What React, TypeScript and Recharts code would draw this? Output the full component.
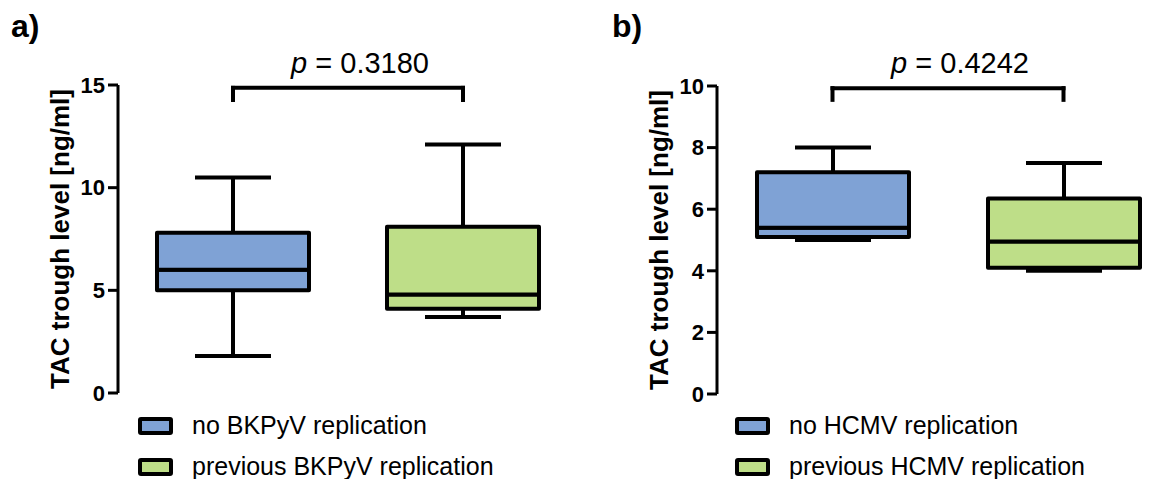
import React from 'react'
import { ComposedChart, Bar, Cell, XAxis, YAxis, ReferenceLine, Legend } from 'recharts'

const FONT = '"Liberation Sans", Arial, Helvetica, sans-serif'
const COLORS = ['#7FA2D5', '#BEDE88']

// panel a - BKPyV
const catsA = ['no BKPyV replication', 'previous BKPyV replication']
const minA = [1.8, 3.7]
const q1A = [5.0, 4.1]
const medA = [6.0, 4.8]
const q3A = [7.8, 8.1]
const maxA = [10.5, 12.1]
const ticksA = [0, 5, 10, 15]

// panel b - HCMV
const catsB = ['no HCMV replication', 'previous HCMV replication']
const minB = [5.0, 4.0]
const q1B = [5.1, 4.1]
const medB = [5.4, 4.95]
const q3B = [7.2, 6.35]
const maxB = [8.0, 7.5]
const ticksB = [0, 2, 4, 6, 8, 10]

const buildRows = (cats: string[], mins: number[], q1s: number[], meds: number[], q3s: number[], maxs: number[]) =>
    cats.map((name, i) => ({
        name,
        base: mins[i],
        lowWhisker: q1s[i] - mins[i],
        lowBox: meds[i] - q1s[i],
        highBox: q3s[i] - meds[i],
        highWhisker: maxs[i] - q3s[i],
    }))

const Empty = () => null

const BoxShape = (p: any) => (
    <rect x={p.x} y={p.y} width={p.width} height={p.height} fill={p.fill} stroke="#000" strokeWidth={4} strokeLinejoin="round" />
)

const LowWhisker = (p: any) => {
    const cx = p.x + p.width / 2
    const yb = p.y + p.height
    return (
        <g>
            <line x1={cx} x2={cx} y1={p.y} y2={yb} stroke="#000" strokeWidth={4} />
            <line x1={cx - p.width / 4} x2={cx + p.width / 4} y1={yb} y2={yb} stroke="#000" strokeWidth={4} />
        </g>
    )
}

const HighWhisker = (p: any) => {
    const cx = p.x + p.width / 2
    return (
        <g>
            <line x1={cx} x2={cx} y1={p.y} y2={p.y + p.height} stroke="#000" strokeWidth={4} />
            <line x1={cx - p.width / 4} x2={cx + p.width / 4} y1={p.y} y2={p.y} stroke="#000" strokeWidth={4} />
        </g>
    )
}

const makeLegend = (names: string[]) => () => (
    <div style={{ fontFamily: FONT }}>
        {names.map((n, i) => (
            <div key={n} style={{ display: 'flex', alignItems: 'center', height: 41 }}>
                <span style={{ display: 'inline-block', width: 27, height: 10, border: '4px solid #000', borderRadius: 3, background: COLORS[i] }} />
                <span style={{ marginLeft: 19, fontSize: 25, color: '#000' }}>{n}</span>
            </div>
        ))}
    </div>
)

interface PanelProps {
    cats: string[]
    rows: any[]
    ticks: number[]
    bracketTop: number
    bracketBottom: number
    pText: string
    width: number
    margin: { top: number; right: number; bottom: number; left: number }
    legendLeft: number
}

const Panel = ({ cats, rows, ticks, bracketTop, bracketBottom, pText, width, margin, legendLeft }: PanelProps) => {
    const yMax = ticks[ticks.length - 1]
    const lineProps = { stroke: '#000', strokeWidth: 4, strokeLinecap: 'square' as const, ifOverflow: 'visible' as const }
    return (
        <ComposedChart width={width} height={479} data={rows} margin={margin} barCategoryGap={0}>
            <XAxis dataKey="name" tick={false} tickLine={false} height={0} axisLine={{ stroke: '#000', strokeWidth: 3 }} />
            <YAxis
                domain={[0, yMax]}
                ticks={ticks}
                interval={0}
                width={60}
                tickSize={10}
                tickMargin={3}
                axisLine={{ stroke: '#000', strokeWidth: 3 }}
                tickLine={{ stroke: '#000', strokeWidth: 3 }}
                tick={{ fontSize: 22, fontWeight: 'bold', fill: '#000', fontFamily: FONT }}
                label={{
                    content: (lp: any) => {
                        const vb = lp.viewBox
                        const x = vb.x + vb.width - 58
                        const y = vb.y + vb.height / 2
                        return (
                            <text x={x} y={y} transform={`rotate(-90, ${x}, ${y})`} textAnchor="middle" dominantBaseline="central"
                                fontSize={26} fontWeight="bold" fontFamily={FONT} fill="#000">
                                TAC trough level [ng/ml]
                            </text>
                        )
                    },
                }}
            />
            <Bar dataKey="base" stackId="b" barSize={152} shape={Empty} isAnimationActive={false} />
            <Bar dataKey="lowWhisker" stackId="b" barSize={152} shape={LowWhisker} isAnimationActive={false} />
            <Bar dataKey="lowBox" stackId="b" barSize={152} shape={BoxShape} isAnimationActive={false}>
                {rows.map((r, i) => <Cell key={r.name} fill={COLORS[i]} />)}
            </Bar>
            <Bar dataKey="highBox" stackId="b" barSize={152} shape={BoxShape} isAnimationActive={false}>
                {rows.map((r, i) => <Cell key={r.name} fill={COLORS[i]} />)}
            </Bar>
            <Bar dataKey="highWhisker" stackId="b" barSize={152} shape={HighWhisker} isAnimationActive={false} />
            <ReferenceLine segment={[{ x: cats[0], y: bracketTop }, { x: cats[0], y: bracketBottom }]} {...lineProps} />
            <ReferenceLine segment={[{ x: cats[1], y: bracketTop }, { x: cats[1], y: bracketBottom }]} {...lineProps} />
            <ReferenceLine
                segment={[{ x: cats[0], y: bracketTop }, { x: cats[1], y: bracketTop }]}
                {...lineProps}
                label={{
                    content: (lp: any) => {
                        const vb = lp.viewBox
                        return (
                            <text x={vb.x + vb.width / 2 + 12} y={vb.y - 15} textAnchor="middle" fontSize={29} fontFamily={FONT} fill="#000">
                                <tspan fontStyle="italic">p</tspan>
                                <tspan> = {pText}</tspan>
                            </text>
                        )
                    },
                }}
            />
            <Legend
                layout="vertical"
                align="center"
                verticalAlign="middle"
                content={makeLegend(cats)}
                wrapperStyle={{ position: 'absolute', left: legendLeft, top: 405, width: 420 }}
            />
        </ComposedChart>
    )
}

export default function App() {
    const rowsA = buildRows(catsA, minA, q1A, medA, q3A, maxA)
    const rowsB = buildRows(catsB, minB, q1B, medB, q3B, maxB)
    const titleStyle: React.CSSProperties = {
        position: 'absolute', top: 10, fontSize: 32, fontWeight: 'bold', fontFamily: FONT, lineHeight: '32px', color: '#000',
    }
    return (
        <div style={{ position: 'relative', width: 1170, height: 479, overflow: 'hidden', background: '#fff' }}>
            <style>{'body{margin:0}'}</style>
            <div style={{ ...titleStyle, left: 11 }}>a)</div>
            <div style={{ ...titleStyle, left: 612 }}>b)</div>
            <div style={{ position: 'absolute', left: 0, top: 0 }}>
                <Panel
                    cats={catsA}
                    rows={rowsA}
                    ticks={ticksA}
                    bracketTop={14.86}
                    bracketBottom={14.27}
                    pText="0.3180"
                    width={590}
                    margin={{ top: 85, right: 12, bottom: 86, left: 58 }}
                    legendLeft={138}
                />
            </div>
            <div style={{ position: 'absolute', left: 590, top: 0 }}>
                <Panel
                    cats={catsB}
                    rows={rowsB}
                    ticks={ticksB}
                    bracketTop={9.93}
                    bracketBottom={9.55}
                    pText="0.4242"
                    width={594}
                    margin={{ top: 86, right: 5, bottom: 85, left: 67 }}
                    legendLeft={145}
                />
            </div>
        </div>
    )
}
